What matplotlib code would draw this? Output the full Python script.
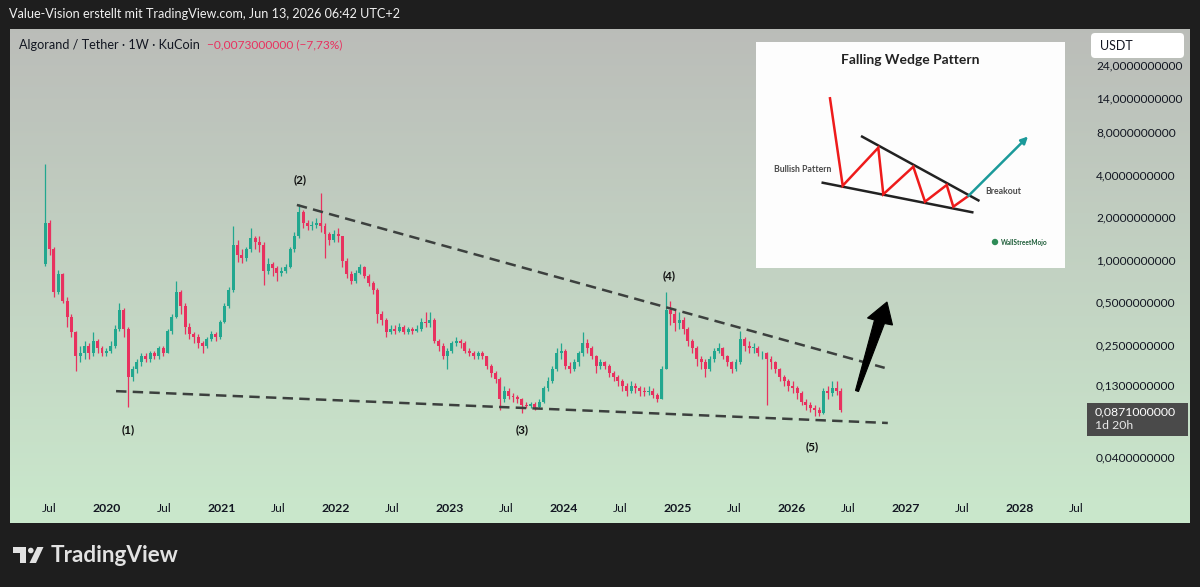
import matplotlib
matplotlib.use('Agg')
import matplotlib.pyplot as plt
import matplotlib.dates as mdates
import matplotlib.transforms as mtransforms
import numpy as np
import pandas as pd
from matplotlib.patches import Polygon, Rectangle, FancyBboxPatch, Circle

plt.rcParams['font.family'] = ['Lato', 'DejaVu Sans']
plt.rcParams['lines.scale_dashes'] = False

# ALGO/USDT, candles (two weeks per candle)
first_open = 0.95
close = [1.85, 1.2, 0.6, 0.8, 0.52, 0.4, 0.31, 0.21, 0.22, 0.25,
         0.22, 0.27, 0.24, 0.22, 0.23, 0.25, 0.33, 0.45, 0.33, 0.15,
         0.17, 0.19, 0.21, 0.2, 0.22, 0.21, 0.24, 0.22, 0.32, 0.4,
         0.6, 0.48, 0.34, 0.3, 0.29, 0.26, 0.25, 0.28, 0.3, 0.29,
         0.37, 0.48, 0.62, 1.3, 1.1, 1.05, 1.2, 1.45, 1.35, 1.3,
         0.85, 0.95, 0.88, 0.82, 0.85, 0.9, 1.2, 1.5, 2.2, 1.85,
         1.75, 1.8, 1.85, 1.75, 1.55, 1.4, 1.55, 1.5, 1.0, 0.8,
         0.72, 0.82, 0.9, 0.78, 0.7, 0.62, 0.42, 0.38, 0.31, 0.33,
         0.32, 0.34, 0.31, 0.33, 0.32, 0.33, 0.37, 0.36, 0.38, 0.27,
         0.25, 0.21, 0.23, 0.26, 0.27, 0.26, 0.23, 0.22, 0.21, 0.22,
         0.21, 0.18, 0.16, 0.145, 0.105, 0.12, 0.11, 0.108, 0.104, 0.095,
         0.093, 0.097, 0.092, 0.1, 0.125, 0.14, 0.17, 0.22, 0.23, 0.18,
         0.17, 0.19, 0.22, 0.26, 0.24, 0.21, 0.18, 0.19, 0.18, 0.16,
         0.15, 0.14, 0.13, 0.12, 0.13, 0.125, 0.12, 0.118, 0.12, 0.112,
         0.105, 0.17, 0.45, 0.42, 0.36, 0.38, 0.33, 0.27, 0.24, 0.2,
         0.19, 0.17, 0.2, 0.23, 0.24, 0.21, 0.19, 0.17, 0.19, 0.28,
         0.25, 0.24, 0.24, 0.22, 0.22, 0.2, 0.19, 0.17, 0.15, 0.14,
         0.13, 0.125, 0.115, 0.1, 0.095, 0.09, 0.088, 0.083, 0.12, 0.115,
         0.125, 0.12, 0.0871]
high = [4.8, 1.95, 1.25, 0.86, 0.82, 0.55, 0.42, 0.32, 0.25, 0.27,
        0.26, 0.31, 0.28, 0.25, 0.24, 0.27, 0.35, 0.5, 0.46, 0.34,
        0.18, 0.2, 0.22, 0.22, 0.23, 0.23, 0.25, 0.25, 0.33, 0.42,
        0.72, 0.62, 0.5, 0.36, 0.31, 0.3, 0.27, 0.29, 0.32, 0.31,
        0.38, 0.5, 0.65, 1.75, 1.4, 1.2, 1.25, 1.7, 1.5, 1.5,
        1.35, 1.05, 0.98, 0.92, 0.9, 0.95, 1.25, 1.6, 2.5, 2.3,
        1.95, 1.9, 2.0, 3.0, 1.85, 1.6, 1.65, 1.7, 1.5, 1.05,
        0.85, 0.86, 0.95, 0.92, 0.8, 0.72, 0.64, 0.44, 0.39, 0.35,
        0.35, 0.36, 0.35, 0.34, 0.34, 0.35, 0.39, 0.43, 0.43, 0.39,
        0.28, 0.26, 0.24, 0.27, 0.29, 0.28, 0.27, 0.24, 0.23, 0.23,
        0.23, 0.21, 0.185, 0.165, 0.15, 0.13, 0.125, 0.115, 0.112, 0.106,
        0.1, 0.1, 0.1, 0.105, 0.13, 0.15, 0.18, 0.24, 0.26, 0.235,
        0.19, 0.2, 0.23, 0.31, 0.28, 0.25, 0.215, 0.2, 0.195, 0.185,
        0.165, 0.155, 0.145, 0.135, 0.14, 0.135, 0.13, 0.128, 0.13, 0.125,
        0.115, 0.18, 0.6, 0.52, 0.45, 0.43, 0.4, 0.34, 0.28, 0.25,
        0.21, 0.2, 0.21, 0.24, 0.26, 0.245, 0.215, 0.195, 0.2, 0.32,
        0.29, 0.27, 0.26, 0.25, 0.23, 0.225, 0.21, 0.195, 0.175, 0.155,
        0.145, 0.14, 0.13, 0.12, 0.105, 0.1, 0.095, 0.092, 0.125, 0.13,
        0.14, 0.14, 0.125]
low = [0.92, 1.1, 0.55, 0.58, 0.5, 0.34, 0.29, 0.165, 0.19, 0.2,
       0.2, 0.21, 0.22, 0.21, 0.21, 0.22, 0.24, 0.32, 0.29, 0.092,
       0.14, 0.16, 0.18, 0.19, 0.19, 0.2, 0.2, 0.21, 0.22, 0.3,
       0.39, 0.42, 0.3, 0.28, 0.26, 0.24, 0.22, 0.24, 0.27, 0.27,
       0.28, 0.36, 0.46, 0.6, 0.98, 0.96, 1.0, 1.15, 1.2, 1.15,
       0.67, 0.8, 0.78, 0.72, 0.78, 0.82, 0.88, 1.15, 1.45, 1.7,
       1.65, 1.65, 1.7, 1.6, 1.05, 1.3, 1.35, 1.35, 0.9, 0.75,
       0.68, 0.7, 0.8, 0.75, 0.66, 0.58, 0.36, 0.35, 0.29, 0.3,
       0.3, 0.31, 0.3, 0.3, 0.3, 0.31, 0.32, 0.34, 0.34, 0.26,
       0.23, 0.2, 0.17, 0.22, 0.25, 0.24, 0.22, 0.21, 0.2, 0.2,
       0.2, 0.17, 0.15, 0.135, 0.087, 0.1, 0.105, 0.1, 0.098, 0.083,
       0.09, 0.09, 0.088, 0.09, 0.098, 0.12, 0.135, 0.165, 0.2, 0.17,
       0.16, 0.165, 0.18, 0.21, 0.22, 0.2, 0.16, 0.17, 0.17, 0.15,
       0.14, 0.13, 0.12, 0.11, 0.115, 0.115, 0.11, 0.11, 0.112, 0.106,
       0.1, 0.104, 0.17, 0.35, 0.32, 0.33, 0.3, 0.25, 0.22, 0.18,
       0.17, 0.15, 0.165, 0.19, 0.22, 0.2, 0.18, 0.16, 0.165, 0.185,
       0.23, 0.22, 0.22, 0.21, 0.2, 0.095, 0.17, 0.16, 0.14, 0.13,
       0.12, 0.115, 0.105, 0.095, 0.088, 0.085, 0.08, 0.08, 0.082, 0.105,
       0.11, 0.112, 0.085]
dates = pd.date_range('2019-06-17', periods=len(close), freq='14D')

price_ticks = [24, 14, 8, 4, 2, 1, 0.5, 0.25, 0.13, 0.04]
time_ticks = [('2019-07-01', 'Jul'), ('2020-01-01', '2020'), ('2020-07-01', 'Jul'),
              ('2021-01-01', '2021'), ('2021-07-01', 'Jul'), ('2022-01-01', '2022'),
              ('2022-07-01', 'Jul'), ('2023-01-01', '2023'), ('2023-07-01', 'Jul'),
              ('2024-01-01', '2024'), ('2024-07-01', 'Jul'), ('2025-01-01', '2025'),
              ('2025-07-01', 'Jul'), ('2026-01-01', '2026'), ('2026-07-01', 'Jul'),
              ('2027-01-01', '2027'), ('2027-07-01', 'Jul'), ('2028-01-01', '2028'),
              ('2028-07-01', 'Jul')]
wave_labels = [('(1)', '2020-03-08', 0.063), ('(2)', '2021-09-10', 3.72),
               ('(3)', '2023-08-22', 0.063), ('(4)', '2024-12-06', 0.78),
               ('(5)', '2026-03-08', 0.048)]
upper_dates = ['2021-08-31', '2026-10-26']
upper_vals = [2.48, 0.174]
lower_dates = ['2020-01-30', '2026-11-05']
lower_vals = [0.119, 0.0708]

up_col = '#22a78f'
down_col = '#e8315f'

W, H = 1200, 587
fig = plt.figure(figsize=(12, 5.87), dpi=100, facecolor='#1e1e1e')
L, R, T, B = 10, 1190, 29, 523
ax = fig.add_axes([L / W, 1 - B / H, (R - L) / W, (B - T) / H])

# pane gradient
grad = np.linspace(0, 1, 256).reshape(-1, 1)
top_c = np.array([0.733, 0.741, 0.725])
bot_c = np.array([0.792, 0.910, 0.800])
img = top_c + (bot_c - top_c) * grad[..., None]
ax.imshow(img, extent=[0, 1, 0, 1], transform=ax.transAxes, aspect='auto',
          origin='upper', zorder=0)

d2020 = mdates.date2num(pd.Timestamp('2020-01-01'))
ppd = 456.3 / 1461
ax.set_xlim(d2020 - (107 - L) / ppd, d2020 + (R - 107) / ppd)
ax.set_yscale('log')
ax.set_ylim(0.04 * 2 ** ((458 - B) / 42.5), 0.04 * 2 ** ((458 - T) / 42.5))
ax.axis('off')

x = mdates.date2num(dates)
opens = [first_open] + close[:-1]
cols = [up_col if c >= o else down_col for o, c in zip(opens, close)]
ax.vlines(x, low, high, colors=cols, lw=0.9, zorder=3)
bot = [min(o, c) for o, c in zip(opens, close)]
hgt = [max(abs(c - o), min(o, c) * 0.012) for o, c in zip(opens, close)]
ax.bar(x, hgt, bottom=bot, width=9.5, color=cols, zorder=4)

ax.plot(pd.to_datetime(upper_dates), upper_vals, color='#3c403e', lw=1.8,
        dashes=(7.5, 4.5), zorder=5)
ax.plot(pd.to_datetime(lower_dates), lower_vals, color='#3c403e', lw=1.8,
        dashes=(7.5, 4.5), zorder=5)

for txt, d, v in wave_labels:
    ax.text(mdates.date2num(pd.Timestamp(d)), v, txt, fontsize=8.5, fontweight='bold',
            color='#111111', ha='center', va='center', zorder=6)

ytr = mtransforms.blended_transform_factory(ax.transAxes, ax.transData)
for v in price_ticks:
    ax.text((1096 - L) / (R - L), v, f'{v:.10f}'.replace('.', ','), transform=ytr,
            fontsize=8.6, color='#131722', va='center', ha='left', zorder=6)

xtr = mtransforms.blended_transform_factory(ax.transData, ax.transAxes)
for d, lab in time_ticks:
    ax.text(mdates.date2num(pd.Timestamp(d)), (B - 509) / (B - T), lab, transform=xtr,
            fontsize=8.8, color='#131722', ha='center', va='center',
            fontweight='bold' if lab != 'Jul' else 'normal')

# overlay in pixel coordinates
ov = fig.add_axes([0, 0, 1, 1], zorder=5)
ov.set_xlim(0, W)
ov.set_ylim(H, 0)
ov.axis('off')

ov.text(9, 14, 'Value-Vision erstellt mit TradingView.com, Jun 13, 2026 06:42 UTC+2',
        color='#f0f0f0', fontsize=9.1, va='center', ha='left')
ov.text(19, 45, 'Algorand / Tether · 1W · KuCoin', color='#131722', fontsize=9.1,
        va='center', ha='left')
ov.text(207, 45, '\u22120,0073000000 (\u22127,73%)', color=down_col, fontsize=8.6,
        va='center', ha='left')

ov.add_patch(FancyBboxPatch((1091, 33), 93, 25, boxstyle='round,pad=0,rounding_size=4',
                            fc='white', ec='none'))
ov.text(1100, 46, 'USDT', fontsize=9, color='#131722', va='center', ha='left')

ov.add_patch(Rectangle((1087, 403), 101, 33, fc='#4a4a4a', ec='none'))
ov.text(1095, 411.5, '0,0871000000', fontsize=8.8, color='white', va='center', ha='left')
ov.text(1095, 425.5, '1d 20h', fontsize=8.8, color='#e8e8e8', va='center', ha='left')

# black breakout arrow
ov.add_patch(Polygon([(855.5, 390.5), (874.5, 320), (867.5, 318), (887, 302),
                      (892.5, 325), (884.5, 323.5), (858.5, 391.5)],
                     closed=True, fc='black', ec='black', lw=0.8))

# falling wedge inset picture
ov.add_patch(Rectangle((756, 42), 309, 226, fc='#fdfdfd', ec='none'))
ov.text(910, 60, 'Falling Wedge Pattern', fontsize=10, fontweight='bold',
        color='#222222', ha='center', va='center')
ov.plot([861, 979.5], [136, 201], color='#222222', lw=1.8, solid_capstyle='butt')
ov.plot([821.5, 973.5], [182.5, 212.5], color='#222222', lw=1.8, solid_capstyle='butt')
ov.plot([830, 842.7, 878.3, 883.3, 913.3, 925, 946.7, 953.3, 968.3],
        [98.3, 185.7, 147.7, 194.3, 166.7, 201.7, 185, 206.7, 196],
        color='#ee1b1b', lw=1.8, solid_joinstyle='miter')
ov.annotate('', xy=(1028, 136.5), xytext=(968.3, 196),
            arrowprops=dict(arrowstyle='-|>', color='#1b9a9a', lw=1.8, mutation_scale=10,
                            shrinkA=0, shrinkB=0))
ov.text(802.5, 169, 'Bullish Pattern', fontsize=6.3, fontweight='bold', color='#4a4a4a',
        ha='center', va='center')
ov.text(985, 191.5, 'Breakout', fontsize=6.3, fontweight='bold', color='#4a4a4a',
        ha='left', va='center')
ov.add_patch(Circle((995, 242), 3.2, fc='#2e8b57', ec='none'))
ov.text(1001, 242.5, 'WallStreetMojo', fontsize=4.7, fontweight='bold', color='#1f5e3a',
        ha='left', va='center')

# TradingView logo
ov.add_patch(Polygon([(12.7, 547), (26, 547), (26, 563), (20, 563), (20, 552.7),
                      (12.7, 552.7)], closed=True, fc='#e2e2e2', ec='none'))
ov.add_patch(Circle((30.8, 550.5), 2.8, fc='#e2e2e2', ec='none'))
ov.add_patch(Polygon([(37.3, 547), (43.5, 547), (36, 563), (29.5, 563)], closed=True,
                     fc='#e2e2e2', ec='none'))
ov.text(51, 556, 'TradingView', fontsize=16.2, fontweight='bold', color='#e2e2e2',
        ha='left', va='center')

fig.savefig('out.png', dpi=100, facecolor=fig.get_facecolor())
